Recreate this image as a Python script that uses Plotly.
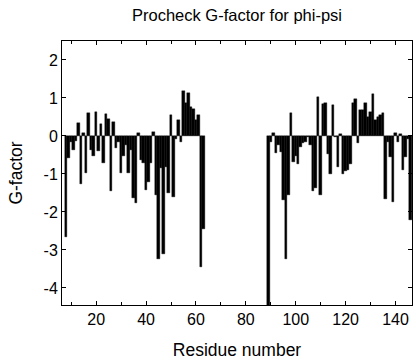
import plotly.graph_objects as go

# Residue numbers (two segments)
residues_a = list(range(8, 64))
residues_b = list(range(89, 147))

gfactor_a = [
    -2.65, -0.59, -0.15, -0.37, -0.12, 0.35, -1.27, 0.07, -0.98, 0.60,
    -0.37, -0.54, 0.64, -0.39, 0.32, -0.72, 0.58, 0.45, -1.45, 0.38,
    -0.32, -0.15, -0.98, -0.54, -0.24, -0.98, -0.37, -1.64, -1.77, 0.07,
    -0.63, -0.70, -1.42, -1.20, -0.72, 0.11, -1.55, -3.24, -0.85, -3.10,
    -0.81, -1.50, 0.55, -1.61, -0.09, 0.42, -0.15, 1.19, 0.86, 1.12,
    0.75, 0.72, 0.42, 0.55, -3.46, -2.46,
]
gfactor_b = [
    -4.60, -0.15, 0.07, -0.46, -0.24, -0.43, -1.68, -3.25, -1.55, 0.60,
    -0.68, -0.52, -0.75, -0.28, -0.19, -0.15, -0.03, -0.24, -1.46, -1.38,
    1.02, -1.55, 0.83, 0.86, -0.48, -1.00, 0.82, -0.04, -0.82, 0.06,
    -1.00, -0.92, -0.90, -0.75, 0.86, 0.97, -0.19, 0.68, 0.68, 0.86,
    0.51, 0.64, 1.10, 0.42, 0.51, 0.55, 0.60, -1.67, -0.15, -0.56,
    -1.75, 0.07, -0.15, 0.04, -0.90, -0.56, -0.08, -2.21,
]

x_tickvals = [20, 40, 60, 80, 100, 120, 140]
x_ticktext = ["20", "40", "60", "80", "100", "120", "140"]
y_tickvals = [2, 1, 0, -1, -2, -3, -4]
y_ticktext = ["2", "1", "0", "-1", "-2", "-3", "-4"]

font_family = "Liberation Sans, Arial, sans-serif"

fig = go.Figure()
fig.add_trace(go.Bar(
    x=residues_a + residues_b,
    y=gfactor_a + gfactor_b,
    width=1,
    marker=dict(color="black", line=dict(width=0.4, color="black")),
    showlegend=False,
))

fig.update_layout(
    width=416, height=360,
    margin=dict(l=62, r=4, t=41, b=55, autoexpand=False),
    paper_bgcolor="white", plot_bgcolor="white",
    bargap=0,
    font=dict(family=font_family, size=16, color="black"),
    title=dict(text="Procheck G-factor for phi-psi", x=0.5, xref="paper",
               y=1 - 15 / 360, yref="container", yanchor="middle",
               font=dict(size=16.5, color="black", family=font_family)),
)

fig.update_xaxes(
    range=[6.3, 146.6], automargin=False,
    tickvals=x_tickvals, ticktext=x_ticktext,
    ticks="inside", ticklen=4, tickwidth=1, tickcolor="black",
    minor=dict(dtick=10, tick0=0, ticks="inside", ticklen=3, tickcolor="black"),
    showline=True, linecolor="black", linewidth=1, mirror="ticks",
    showgrid=False, zeroline=False,
    title=dict(text="Residue number", font=dict(size=17.5), standoff=16),
    tickfont=dict(size=16),
)
fig.update_yaxes(
    range=[-4.45, 2.5], automargin=False,
    tickvals=y_tickvals, ticktext=y_ticktext,
    ticks="inside", ticklen=4, tickwidth=1, tickcolor="black",
    showline=True, linecolor="black", linewidth=1, mirror="ticks",
    showgrid=False, zeroline=False,
    title=dict(text="G-factor", font=dict(size=17.5), standoff=16),
    tickfont=dict(size=16),
)

fig.write_html(
    "out.html",
    config={"displayModeBar": False},
    post_script="document.body.style.margin='0';document.body.style.overflow='hidden';",
)
